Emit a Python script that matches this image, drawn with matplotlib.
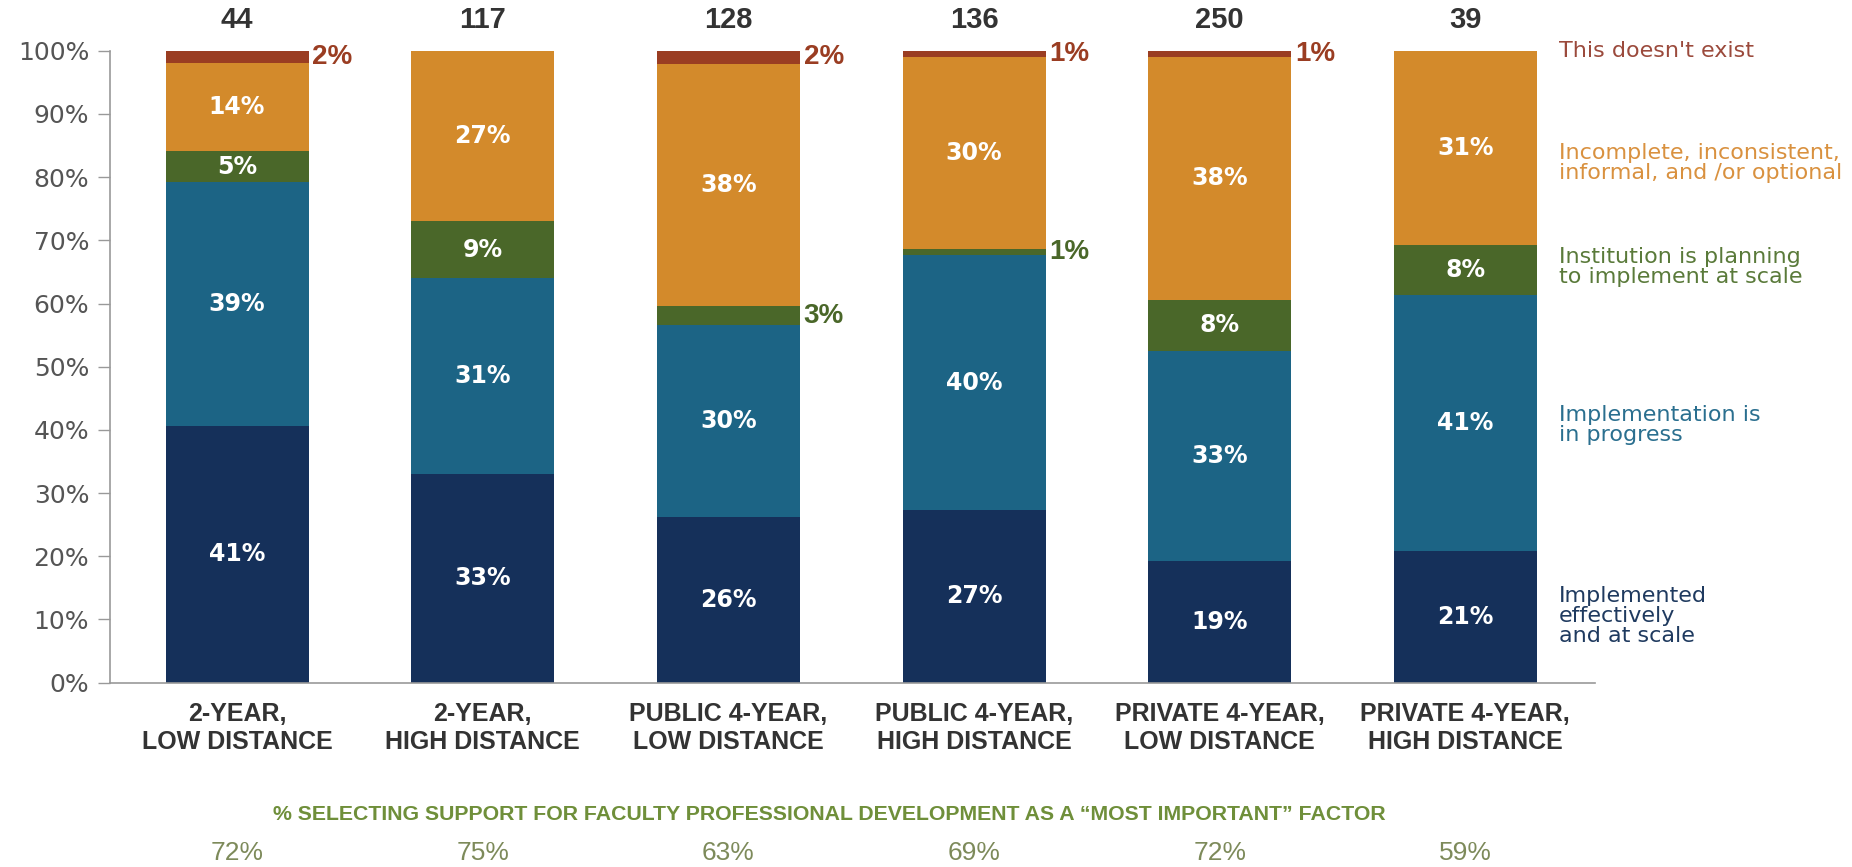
import numpy as np
import matplotlib
matplotlib.use("Agg")
import matplotlib.pyplot as plt
from matplotlib.ticker import FuncFormatter

# institution groups and respondent counts
categories = ["2-YEAR,\nLOW DISTANCE", "2-YEAR,\nHIGH DISTANCE",
              "PUBLIC 4-YEAR,\nLOW DISTANCE", "PUBLIC 4-YEAR,\nHIGH DISTANCE",
              "PRIVATE 4-YEAR,\nLOW DISTANCE", "PRIVATE 4-YEAR,\nHIGH DISTANCE"]
n_resp = [44, 117, 128, 136, 250, 39]

# response shares (%), bottom to top
effective = [41, 33, 26, 27, 19, 21]
in_progress = [39, 31, 30, 40, 33, 41]
planning = [5, 9, 3, 1, 8, 8]
incomplete = [14, 27, 38, 30, 38, 31]
not_exist = [2, 0, 2, 1, 1, 0]

# % selecting faculty PD support as a "most important" factor
pd_important = [72, 75, 63, 69, 72, 59]

series_names = ["Implemented\neffectively\nand at scale",
                "Implementation is\nin progress",
                "Institution is planning\nto implement at scale",
                "Incomplete, inconsistent,\ninformal, and /or optional",
                "This doesn't exist"]
colors = ["#15305a", "#1c6485", "#4a6729", "#d38a2b", "#9a3d22"]
text_colors = ["#1f3a5f", "#2a6f8f", "#5a7a3a", "#d9913f", "#9b4a3c"]
legend_y = [10.5, 40.7, 65.8, 82.2, 100.0]

NARROW = ["Liberation Sans", "DejaVu Sans"]

data = np.array([effective, in_progress, planning, incomplete, not_exist], dtype=float)
shares = data / data.sum(axis=0) * 100  # each bar fills 100%
x = np.arange(len(categories))
width = 0.582

fig = plt.figure(figsize=(18.52, 8.67), dpi=100)
ax = fig.add_axes([0.0594, 0.2127, 0.8016, 0.7287])

bottom = np.zeros(len(categories))
for k in range(len(shares)):
    ax.bar(x, shares[k], width, bottom=bottom, color=colors[k], edgecolor="none", zorder=2)
    for i in range(len(categories)):
        v = data[k, i]
        if v <= 0:
            continue
        yc = bottom[i] + shares[k, i] / 2
        if v >= 5:
            ax.text(x[i], yc, f"{v:.0f}%", ha="center", va="center", color="white",
                    fontsize=17, fontweight="bold", zorder=3)
        else:
            ax.text(x[i] + width / 2 + 0.015, yc, f"{v:.0f}%", ha="left", va="center",
                    color=colors[k], fontsize=20, fontweight="bold", family=NARROW, zorder=3)
    bottom += shares[k]

# respondent counts above the bars
for i, n in enumerate(n_resp):
    ax.text(x[i], 104.9, str(n), ha="center", va="center", color="#333333",
            fontsize=21, fontweight="bold", family=NARROW, clip_on=False)

# series labels on the right
for name, yv, c in zip(series_names, legend_y, text_colors):
    ax.text(0.976, yv, name, transform=ax.get_yaxis_transform(), ha="left", va="center",
            color=c, fontsize=16, linespacing=1.0, clip_on=False)

ax.set_xlim(-0.517, 5.526)
ax.set_ylim(0, 100)
ax.set_yticks(np.arange(0, 101, 10))
ax.yaxis.set_major_formatter(FuncFormatter(lambda v, p: f"{v:.0f}%"))
ax.tick_params(axis="y", length=9, width=1, color="#999999", labelcolor="#555555",
               labelsize=18, pad=6)
ax.set_xticks(x)
ax.set_xticklabels(categories, fontsize=18, fontweight="bold", color="#333333",
                   family=NARROW, linespacing=1.2)
ax.tick_params(axis="x", length=0, pad=14)
for s in ["top", "right"]:
    ax.spines[s].set_visible(False)
for s in ["left", "bottom"]:
    ax.spines[s].set_color("#999999")
    ax.spines[s].set_linewidth(1.2)

fig.text(0.448, 0.061,
         "% SELECTING SUPPORT FOR FACULTY PROFESSIONAL DEVELOPMENT AS A \u201cMOST IMPORTANT\u201d FACTOR",
         ha="center", va="center", color="#6f8f3a", fontsize=15.3, fontweight="bold", family=NARROW)
for i, p in enumerate(pd_important):
    xf = ax.transData.transform((x[i], 0))[0] / fig.bbox.width
    fig.text(xf, 0.016, f"{p}%", ha="center", va="center", color="#7d8a5a",
             fontsize=19, family=NARROW)

fig.savefig("out.png", dpi=100, facecolor="white")
